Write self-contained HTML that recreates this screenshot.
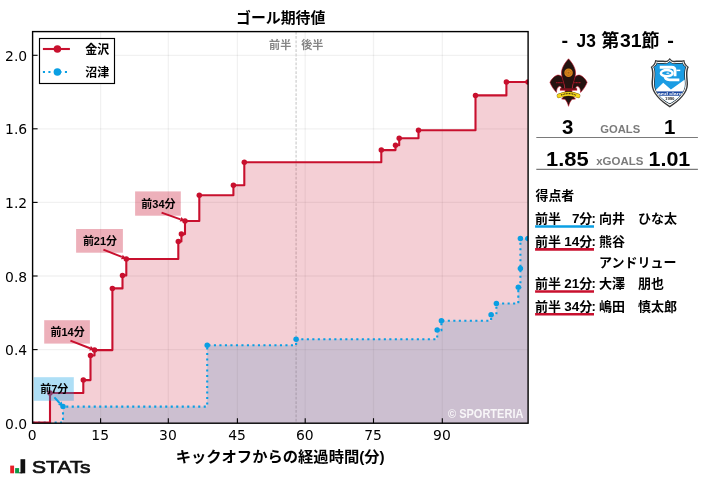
<!DOCTYPE html>
<html lang="ja"><head><meta charset="utf-8"><title>ゴール期待値</title>
<style>html,body{margin:0;padding:0;background:#fff}svg{display:block}.jp{font-family:"Liberation Sans","Noto Sans CJK JP",sans-serif;font-weight:bold}.tk{font-family:"DejaVu Sans",sans-serif;font-size:13.9px;fill:#000}</style></head><body>
<svg width="707" height="479" viewBox="0 0 707 479">
<rect width="707" height="479" fill="#fff"/>
<clipPath id="cp"><rect x="32.6" y="31.6" width="495.5" height="391.59999999999997"/></clipPath>
<g stroke="#000" stroke-opacity="0.055" stroke-width="1.3" fill="none">
<line x1="100.6" y1="31.6" x2="100.6" y2="423.2"/>
<line x1="168.3" y1="31.6" x2="168.3" y2="423.2"/>
<line x1="237.4" y1="31.6" x2="237.4" y2="423.2"/>
<line x1="305.2" y1="31.6" x2="305.2" y2="423.2"/>
<line x1="373.5" y1="31.6" x2="373.5" y2="423.2"/>
<line x1="442.3" y1="31.6" x2="442.3" y2="423.2"/>
<line x1="32.6" y1="349.6" x2="528.1" y2="349.6"/>
<line x1="32.6" y1="276.0" x2="528.1" y2="276.0"/>
<line x1="32.6" y1="202.4" x2="528.1" y2="202.4"/>
<line x1="32.6" y1="128.8" x2="528.1" y2="128.8"/>
<line x1="32.6" y1="55.3" x2="528.1" y2="55.3"/>
</g>
<line x1="296.1" y1="31.6" x2="296.1" y2="423.2" stroke="#d4d4d4" stroke-width="1.4" stroke-dasharray="2.8 1.6"/>
<g clip-path="url(#cp)">
<path d="M32.6,423.2 H63.0 V406.6 H207.2 V345.3 H296.1 V339.2 H437.2 V330.1 H441.4 V320.7 H491.1 V314.8 H496.4 V303.5 H518.3 V287.2 H520.4 V268.4 H520.4 V238.6 H528.0 V238.6 V423.2 Z" fill="#0a9fe3" fill-opacity="0.2"/>
<path d="M32.6,423.2 H50.0 V393.0 H83.3 V380.1 H90.5 V355.5 H94.5 V350.1 H112.4 V288.4 H122.5 V275.4 H126.3 V259.0 H178.3 V241.4 H181.4 V234.1 H185.0 V221.0 H199.3 V195.3 H233.4 V185.3 H244.3 V162.2 H381.3 V150.1 H395.5 V145.3 H399.2 V138.2 H418.5 V130.3 H475.5 V95.4 H506.4 V82.0 H528.0 V82.0 V423.2 Z" fill="#c8102e" fill-opacity="0.2"/>
<path d="M32.6,422.5 H63.0 V406.6 H207.2 V345.3 H296.1 V339.2 H437.2 V330.1 H441.4 V320.7 H491.1 V314.8 H496.4 V303.5 H518.3 V287.2 H520.4 V268.4 H520.4 V238.6 H528.0 V238.6" fill="none" stroke="#0a9fe3" stroke-width="2.1" stroke-dasharray="2.1 3.4"/>
<path d="M32.6,422.5 H50.0 V393.0 H83.3 V380.1 H90.5 V355.5 H94.5 V350.1 H112.4 V288.4 H122.5 V275.4 H126.3 V259.0 H178.3 V241.4 H181.4 V234.1 H185.0 V221.0 H199.3 V195.3 H233.4 V185.3 H244.3 V162.2 H381.3 V150.1 H395.5 V145.3 H399.2 V138.2 H418.5 V130.3 H475.5 V95.4 H506.4 V82.0 H528.0 V82.0" fill="none" stroke="#c8102e" stroke-width="2.1" stroke-linejoin="round"/>
<g fill="#c8102e">
<circle cx="50.0" cy="393.0" r="2.75"/>
<circle cx="83.3" cy="380.1" r="2.75"/>
<circle cx="90.5" cy="355.5" r="2.75"/>
<circle cx="94.5" cy="350.1" r="2.75"/>
<circle cx="112.4" cy="288.4" r="2.75"/>
<circle cx="122.5" cy="275.4" r="2.75"/>
<circle cx="126.3" cy="259.0" r="2.75"/>
<circle cx="178.3" cy="241.4" r="2.75"/>
<circle cx="181.4" cy="234.1" r="2.75"/>
<circle cx="185.0" cy="221.0" r="2.75"/>
<circle cx="199.3" cy="195.3" r="2.75"/>
<circle cx="233.4" cy="185.3" r="2.75"/>
<circle cx="244.3" cy="162.2" r="2.75"/>
<circle cx="381.3" cy="150.1" r="2.75"/>
<circle cx="395.5" cy="145.3" r="2.75"/>
<circle cx="399.2" cy="138.2" r="2.75"/>
<circle cx="418.5" cy="130.3" r="2.75"/>
<circle cx="475.5" cy="95.4" r="2.75"/>
<circle cx="506.4" cy="82.0" r="2.75"/>
<circle cx="528.0" cy="82.0" r="2.75"/>
</g>
<g fill="#0a9fe3">
<circle cx="63.0" cy="406.6" r="2.75"/>
<circle cx="207.2" cy="345.3" r="2.75"/>
<circle cx="296.1" cy="339.2" r="2.75"/>
<circle cx="437.2" cy="330.1" r="2.75"/>
<circle cx="441.4" cy="320.7" r="2.75"/>
<circle cx="491.1" cy="314.8" r="2.75"/>
<circle cx="496.4" cy="303.5" r="2.75"/>
<circle cx="518.3" cy="287.2" r="2.75"/>
<circle cx="520.4" cy="268.4" r="2.75"/>
<circle cx="520.4" cy="238.6" r="2.75"/>
<circle cx="528.0" cy="238.6" r="2.75"/>
</g>
</g>
<rect x="33.8" y="377.2" width="40.0" height="23.6" fill="#0a9fe3" fill-opacity="0.33"/>
<text class="jp" x="54.3" y="392.9" font-size="11.0" text-anchor="middle" fill="#000">前7分</text>
<line x1="54.4" y1="397.4" x2="59.8" y2="403.2" stroke="#0a9fe3" stroke-width="2"/>
<polygon points="63.1,406.7 58.1,404.8 61.6,401.6" fill="#0a9fe3"/>
<rect x="44.2" y="320.2" width="45.7" height="23.4" fill="#c8102e" fill-opacity="0.33"/>
<text class="jp" x="67.6" y="335.8" font-size="11.0" text-anchor="middle" fill="#000">前14分</text>
<line x1="70.4" y1="340.6" x2="90.0" y2="348.3" stroke="#c8102e" stroke-width="2"/>
<polygon points="94.5,350.1 89.2,350.6 90.9,346.1" fill="#c8102e"/>
<rect x="76.1" y="229.0" width="46.8" height="23.7" fill="#c8102e" fill-opacity="0.33"/>
<text class="jp" x="100.0" y="244.8" font-size="11.0" text-anchor="middle" fill="#000">前21分</text>
<line x1="103.4" y1="249.6" x2="121.8" y2="256.9" stroke="#c8102e" stroke-width="2"/>
<polygon points="126.3,258.7 121.0,259.2 122.7,254.7" fill="#c8102e"/>
<rect x="135.1" y="191.4" width="45.7" height="24.3" fill="#c8102e" fill-opacity="0.33"/>
<text class="jp" x="158.4" y="207.5" font-size="11.0" text-anchor="middle" fill="#000">前34分</text>
<line x1="161.6" y1="212.6" x2="180.5" y2="219.4" stroke="#c8102e" stroke-width="2"/>
<polygon points="185.0,221.0 179.7,221.6 181.3,217.1" fill="#c8102e"/>
<g stroke="#000" stroke-width="1.1">
<line x1="100.6" y1="423.2" x2="100.6" y2="418.2"/>
<line x1="168.3" y1="423.2" x2="168.3" y2="418.2"/>
<line x1="237.4" y1="423.2" x2="237.4" y2="418.2"/>
<line x1="305.2" y1="423.2" x2="305.2" y2="418.2"/>
<line x1="373.5" y1="423.2" x2="373.5" y2="418.2"/>
<line x1="442.3" y1="423.2" x2="442.3" y2="418.2"/>
<line x1="32.6" y1="349.6" x2="37.6" y2="349.6"/>
<line x1="32.6" y1="276.0" x2="37.6" y2="276.0"/>
<line x1="32.6" y1="202.4" x2="37.6" y2="202.4"/>
<line x1="32.6" y1="128.8" x2="37.6" y2="128.8"/>
<line x1="32.6" y1="55.3" x2="37.6" y2="55.3"/>
</g>
<rect x="32.6" y="31.6" width="495.5" height="391.59999999999997" fill="none" stroke="#000" stroke-width="1.4"/>
<text class="tk" x="32.2" y="439.8" text-anchor="middle">0</text>
<text class="tk" x="100.2" y="439.8" text-anchor="middle">15</text>
<text class="tk" x="167.9" y="439.8" text-anchor="middle">30</text>
<text class="tk" x="237.0" y="439.8" text-anchor="middle">45</text>
<text class="tk" x="304.8" y="439.8" text-anchor="middle">60</text>
<text class="tk" x="373.1" y="439.8" text-anchor="middle">75</text>
<text class="tk" x="441.9" y="439.8" text-anchor="middle">90</text>
<text class="tk" x="27.2" y="428.8" text-anchor="end">0.0</text>
<text class="tk" x="27.2" y="355.2" text-anchor="end">0.4</text>
<text class="tk" x="27.2" y="281.6" text-anchor="end">0.8</text>
<text class="tk" x="27.2" y="208.0" text-anchor="end">1.2</text>
<text class="tk" x="27.2" y="134.4" text-anchor="end">1.6</text>
<text class="tk" x="27.2" y="60.9" text-anchor="end">2.0</text>
<text class="jp" x="291.3" y="49.0" font-size="11.1" text-anchor="end" fill="#858585">前半</text>
<text class="jp" x="301.2" y="49.0" font-size="11.1" fill="#858585">後半</text>
<text class="jp" x="448.0" y="417.8" font-size="11.9" fill="#fff" fill-opacity="0.85" textLength="75.4" lengthAdjust="spacingAndGlyphs">© SPORTERIA</text>
<text class="jp" x="280.7" y="22.9" font-size="14.9" text-anchor="middle" fill="#000">ゴール期待値</text>
<text class="jp" x="280.2" y="462.4" font-size="15.3" text-anchor="middle" fill="#000">キックオフからの経過時間(分)</text>
<rect x="39.5" y="38.5" width="75" height="45" fill="#fff" stroke="#000" stroke-width="1.15"/>
<line x1="42.9" y1="49.0" x2="69.9" y2="49.0" stroke="#c8102e" stroke-width="2.1"/><circle cx="57.4" cy="49.0" r="3.75" fill="#c8102e"/>
<line x1="42.9" y1="72.0" x2="69.9" y2="72.0" stroke="#0a9fe3" stroke-width="2.1" stroke-dasharray="2.1 3.4"/><circle cx="57.4" cy="72.0" r="3.75" fill="#0a9fe3"/>
<text class="jp" x="85.2" y="53.6" font-size="12.0" fill="#000">金沢</text>
<text class="jp" x="85.2" y="76.6" font-size="12.0" fill="#000">沼津</text>
<text class="jp" x="561.6" y="47.0" font-size="18" text-anchor="start" fill="#000" style="font-weight:bold" textLength="6.6" lengthAdjust="spacingAndGlyphs">-</text>
<text class="jp" x="576.5" y="47.0" font-size="18" text-anchor="start" fill="#000" style="font-weight:bold" textLength="19.3" lengthAdjust="spacingAndGlyphs">J3</text>
<text class="jp" x="601.3" y="47.0" font-size="18" text-anchor="start" fill="#000" style="font-weight:bold">第</text>
<text class="jp" x="619.9" y="47.0" font-size="18" text-anchor="start" fill="#000" style="font-weight:bold" textLength="21.6" lengthAdjust="spacingAndGlyphs">31</text>
<text class="jp" x="641.6" y="47.0" font-size="18" text-anchor="start" fill="#000" style="font-weight:bold">節</text>
<text class="jp" x="667.3" y="47.0" font-size="18" text-anchor="start" fill="#000" style="font-weight:bold" textLength="6.6" lengthAdjust="spacingAndGlyphs">-</text>
<text class="jp" x="562.0" y="134.2" font-size="20" text-anchor="start" fill="#000" style="font-weight:bold" textLength="11.4" lengthAdjust="spacingAndGlyphs">3</text>
<text class="jp" x="663.9" y="134.2" font-size="20" text-anchor="start" fill="#000" style="font-weight:bold" textLength="11.4" lengthAdjust="spacingAndGlyphs">1</text>
<text class="jp" x="600.3" y="133.1" font-size="11.5" text-anchor="start" fill="#7b7b7b" style="font-weight:bold" textLength="39.9" lengthAdjust="spacingAndGlyphs">GOALS</text>
<line x1="536.3" y1="137.5" x2="697.9" y2="137.5" stroke="#7a7a7a" stroke-width="1.1"/>
<text class="jp" x="546.0" y="166.4" font-size="20" text-anchor="start" fill="#000" style="font-weight:bold" textLength="42.6" lengthAdjust="spacingAndGlyphs">1.85</text>
<text class="jp" x="648.5" y="166.4" font-size="20" text-anchor="start" fill="#000" style="font-weight:bold" textLength="41.8" lengthAdjust="spacingAndGlyphs">1.01</text>
<text class="jp" x="596.2" y="165.1" font-size="11.5" text-anchor="start" fill="#7b7b7b" style="font-weight:bold" textLength="47.2" lengthAdjust="spacingAndGlyphs">xGOALS</text>
<line x1="536.3" y1="169.4" x2="697.9" y2="169.4" stroke="#7a7a7a" stroke-width="1.1"/>
<text class="jp" x="535.5" y="199.6" font-size="12.9" fill="#000">得点者</text>
<text class="jp" font-size="13.0" fill="#000" y="222.9"><tspan x="535.0">前半</tspan><tspan x="579.4" text-anchor="end" font-size="13.5">7</tspan><tspan x="579.2">分</tspan><tspan x="591.6">:</tspan></text>
<line x1="535.1" y1="226.5" x2="594.0" y2="226.5" stroke="#0a9fe3" stroke-width="2.6"/>
<text class="jp" font-size="13.0" fill="#000" x="599.0" y="222.9">向井　ひな太</text>
<text class="jp" font-size="13.0" fill="#000" y="245.8"><tspan x="535.0">前半</tspan><tspan x="579.4" text-anchor="end" font-size="13.5">14</tspan><tspan x="579.2">分</tspan><tspan x="591.6">:</tspan></text>
<line x1="535.1" y1="249.4" x2="594.0" y2="249.4" stroke="#c8102e" stroke-width="2.6"/>
<text class="jp" font-size="13.0" fill="#000" x="599.0" y="245.8">熊谷</text>
<text class="jp" font-size="13.0" fill="#000" x="599.0" y="266.9">アンドリュー</text>
<text class="jp" font-size="13.0" fill="#000" y="288.1"><tspan x="535.0">前半</tspan><tspan x="579.4" text-anchor="end" font-size="13.5">21</tspan><tspan x="579.2">分</tspan><tspan x="591.6">:</tspan></text>
<line x1="535.1" y1="291.5" x2="594.0" y2="291.5" stroke="#c8102e" stroke-width="2.6"/>
<text class="jp" font-size="13.0" fill="#000" x="599.0" y="288.1">大澤　朋也</text>
<text class="jp" font-size="13.0" fill="#000" y="310.6"><tspan x="535.0">前半</tspan><tspan x="579.4" text-anchor="end" font-size="13.5">34</tspan><tspan x="579.2">分</tspan><tspan x="591.6">:</tspan></text>
<line x1="535.1" y1="314.3" x2="594.0" y2="314.3" stroke="#c8102e" stroke-width="2.6"/>
<text class="jp" font-size="13.0" fill="#000" x="599.0" y="310.6">嶋田　慎太郎</text>
<rect x="10.2" y="465.6" width="3.9" height="7.7" fill="#e71f28"/>
<rect x="15.1" y="468.1" width="4.0" height="5.2" fill="#0c9a48"/>
<rect x="20.5" y="459.2" width="4.7" height="14.1" fill="#111"/>
<rect x="19.2" y="472.3" width="3" height="1.0" fill="#111"/>
<text x="32.0" y="472.7" font-family="'Liberation Sans',sans-serif" font-size="17.2" fill="#111" stroke="#111" stroke-width="0.7" stroke-linejoin="round" textLength="58.6" lengthAdjust="spacingAndGlyphs">STATs</text>
<g transform="translate(545,55) scale(0.1148)" stroke-linejoin="round">
<path d="M172,298 C169,255 163,215 148,190 C136,178 118,172 104,176 C82,183 54,212 43,238 C52,266 76,302 100,326 C100,300 108,281 124,273 C137,270 144,283 144,298 Z" fill="#241310" stroke="#c9122a" stroke-width="5"/>
<path d="M238,298 C241,255 247,215 262,190 C274,178 292,172 306,176 C328,183 356,212 367,238 C358,266 334,302 310,326 C310,300 302,281 286,273 C273,270 266,283 266,298 Z" fill="#241310" stroke="#c9122a" stroke-width="5"/>
<path d="M176,300 C176,335 166,360 145,384 L174,386 C188,402 198,422 205,447 C212,422 222,402 236,386 L265,384 C244,360 234,335 234,300 Z" fill="#241310" stroke="#c9122a" stroke-width="5"/>
<path d="M205,33 C236,68 270,115 266,165 C262,212 238,250 236,296 L174,296 C172,250 148,212 144,165 C140,115 174,68 205,33 Z" fill="#241310" stroke="#c9122a" stroke-width="5"/>
<rect x="130" y="290" width="150" height="20" fill="#c9122a"/>
<rect x="136" y="292" width="138" height="8" fill="#241310"/>
<path d="M121,356 Q205,320 289,356" fill="none" stroke="#7a5a10" stroke-width="38" stroke-linecap="round"/>
<path d="M121,356 Q205,320 289,356" fill="none" stroke="#f6d81e" stroke-width="32" stroke-linecap="round"/>
<path d="M140,349 Q205,324 270,349" fill="none" stroke="#2a1c05" stroke-width="11" stroke-dasharray="9 5" opacity="0.85"/>
<circle cx="205" cy="154" r="37" fill="#d8861c"/>
<circle cx="205" cy="154" r="23" fill="none" stroke="#9a5a14" stroke-width="7" stroke-dasharray="9 5"/>
<circle cx="205" cy="154" r="9" fill="#a86518"/>
<path d="M98,240 H154 M256,240 H312" stroke="#c9122a" stroke-width="11" stroke-dasharray="9 4" fill="none" opacity="0.85"/>
</g>
<g transform="translate(648,56) scale(0.11282)" stroke-linejoin="round">
<path d="M193,17.2 C180,36 165,44 150,42 C120,38 90,44 63.6,36 C59.6,68.0 44,85 24,98 C46,140 32,200 31,245 C30,331.2 108.0,397.4 193,457.2 C278.0,397.4 356,331.2 355,245 C354,200 340,140 362,98 C342,85 326.4,68.0 322.4,36 C296,44 266,38 236,42 C221,44 206,36 193,17.2 Z" fill="#383838"/>
<path d="M193,32.8 C180,49 165,57 150,55 C120,51 90,57 71.4,49 C67.4,74.5 57,85 37,98 C59,140 45,200 44,245 C43,327.3 114.5,389.6 193,440.3 C271.5,389.6 343,327.3 342,245 C341,200 327,140 349,98 C329,85 318.6,74.5 314.6,49 C296,57 266,51 236,55 C221,57 206,49 193,32.8 Z" fill="#ffffff"/>
<path d="M193,43.599999999999994 C180,58 165,66 150,64 C120,60 90,66 76.8,58 C72.8,79.0 66,85 46,98 C68,140 54,200 53,245 C52,324.6 119.0,384.2 193,428.6 C267.0,384.2 334,324.6 333,245 C332,200 318,140 340,98 C320,85 313.2,79.0 309.2,58 C296,66 266,60 236,64 C221,66 206,58 193,43.599999999999994 Z" fill="#262626"/>
<clipPath id="nz"><path d="M193,50.8 C180,64 165,72 150,70 C120,66 90,72 80.4,64 C76.4,82.0 72,85 52,98 C74,140 60,200 59,245 C58,322.8 122.0,380.6 193,420.8 C264.0,380.6 328,322.8 327,245 C326,200 312,140 334,98 C314,85 309.6,82.0 305.6,64 C296,72 266,66 236,70 C221,72 206,64 193,50.8 Z"/></clipPath>
<g clip-path="url(#nz)">
<rect x="0" y="0" width="390" height="480" fill="#1b9ce3"/>
<path d="M40,330 L135,238 L203,298 L330,205 L360,205 L360,480 L40,480 Z" fill="#ffffff"/>
<rect x="30" y="314" width="330" height="38" fill="#1b48a0"/>
</g>
<g fill="none" stroke="#ffffff" stroke-width="25" stroke-linecap="butt">
<path d="M104,100 H210 Q240,100 240,130 V180"/>
<ellipse cx="166" cy="152" rx="52" ry="27" stroke-width="22"/>
<path d="M150,178 Q150,211 192,211 H278"/>
</g>
<ellipse cx="176" cy="152" rx="14" ry="6" fill="#ffffff"/>
<rect x="252" y="121" width="34" height="13" fill="#ffffff"/>
<text x="193" y="342" font-family="'Liberation Sans',sans-serif" font-weight="bold" font-size="32" text-anchor="middle" fill="#ffffff" textLength="215" lengthAdjust="spacingAndGlyphs">azul claro</text>
<text x="193" y="386" font-family="'Liberation Sans',sans-serif" font-weight="bold" font-size="28" text-anchor="middle" fill="#222222" textLength="84" lengthAdjust="spacingAndGlyphs">1990</text>
</g>
</svg></body></html>
